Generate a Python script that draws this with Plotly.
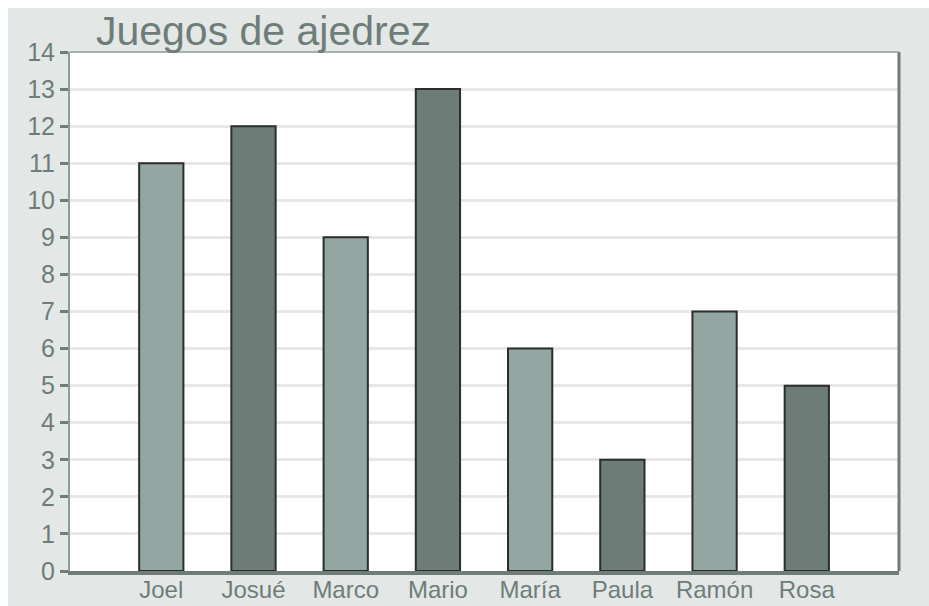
import plotly.graph_objects as go

categories = ["Joel", "Josué", "Marco", "Mario", "María", "Paula", "Ramón", "Rosa"]
values = [11, 12, 9, 13, 6, 3, 7, 5]
bar_colors = ["#93a6a2", "#6d7c77", "#93a6a2", "#6d7c77", "#93a6a2", "#6d7c77", "#93a6a2", "#6d7c77"]
y_ticks = list(range(0, 15))
title_text = "Juegos de ajedrez"

TXT = "#6e7d79"
FONT = "Liberation Sans, Arial, sans-serif"

fig = go.Figure()
fig.add_trace(go.Bar(
    x=categories, y=values,
    width=0.48,
    marker=dict(color=bar_colors, line=dict(color="#2a2e2d", width=2)),
    hoverinfo="skip",
))

fig.update_layout(
    width=921, height=598,
    margin=dict(l=62, r=30, t=44, b=35),
    paper_bgcolor="#e3e7e6",
    plot_bgcolor="white",
    showlegend=False,
    bargap=0.5,
    title=dict(
        text=title_text,
        font=dict(family=FONT, size=41, color=TXT),
        xref="container", yref="container",
        x=0.0955, xanchor="left",
        y=0.962, yanchor="middle",
        automargin=False,
    ),
    xaxis=dict(
        type="category",
        categoryorder="array", categoryarray=categories,
        range=[-0.99, 8.0],
        showline=True, linecolor=TXT, linewidth=4,
        ticks="", showgrid=False, zeroline=False,
        tickfont=dict(family=FONT, size=24, color=TXT),
        ticklabelstandoff=-6,
        automargin=False,
        fixedrange=True,
    ),
    yaxis=dict(
        range=[0, 14],
        tickvals=y_ticks,
        ticktext=[str(v) for v in y_ticks],
        ticks="outside", ticklen=8, tickwidth=3, tickcolor=TXT,
        showgrid=True, gridcolor="#e7e7e7", gridwidth=3,
        showline=True, linecolor="#8d9c98", linewidth=2,
        zeroline=False,
        tickfont=dict(family=FONT, size=25, color=TXT),
        automargin=False,
        fixedrange=True,
    ),
    shapes=[
        dict(type="line", xref="paper", yref="paper", x0=1, x1=1, y0=0, y1=1,
             line=dict(color=TXT, width=3)),
        dict(type="line", xref="paper", yref="paper", x0=0, x1=1, y0=1, y1=1,
             line=dict(color="#8d9c98", width=1.5)),
    ],
)

fig.write_html(
    "out.html",
    config={"displayModeBar": False},
    post_script=(
        "var gd=document.getElementById('{plot_id}');"
        "gd.style.position='fixed';gd.style.left='8px';gd.style.top='8px';"
        "document.body.style.margin='0';"
        "document.body.style.overflow='hidden';"
        "document.documentElement.style.overflow='hidden';"
    ),
)
